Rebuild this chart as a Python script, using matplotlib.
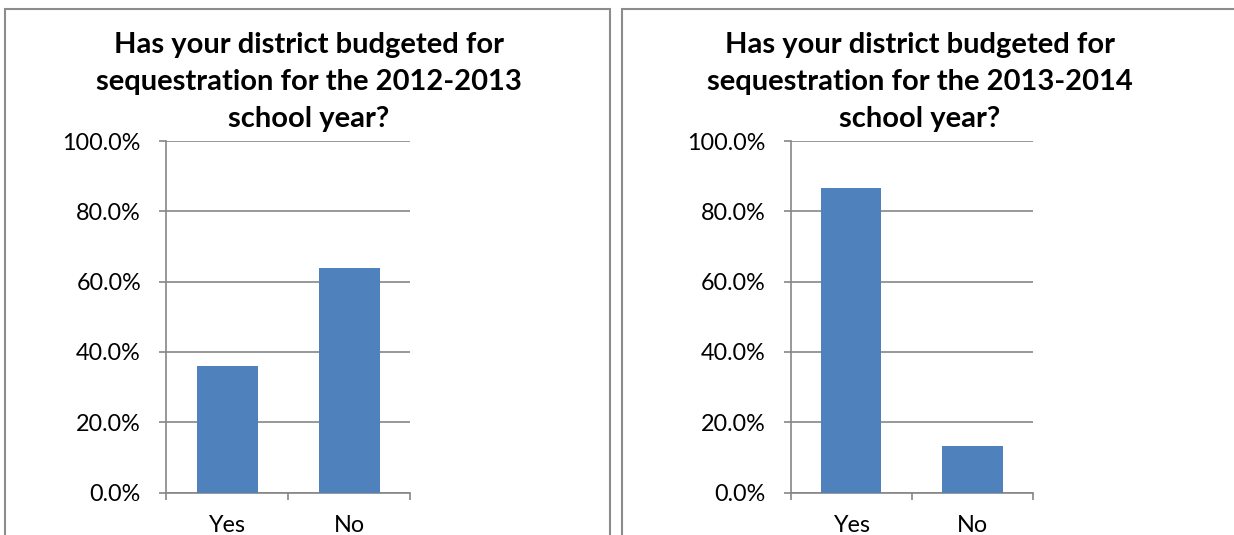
import matplotlib
matplotlib.use("Agg")
import matplotlib.pyplot as plt
from matplotlib.patches import Rectangle
from matplotlib.ticker import FixedLocator, PercentFormatter

categories = ["Yes", "No"]
values_2012 = [36.0, 64.0]
values_2013 = [86.7, 13.3]
yticks = [0, 20, 40, 60, 80, 100]
title_2012 = ["Has your district budgeted for", "sequestration for the 2012-2013", "school year?"]
title_2013 = ["Has your district budgeted for", "sequestration for the 2013-2014", "school year?"]

BAR = "#4F81BD"
GRID = "#868686"
FONT = "Lato"

W, H = 1234, 535
fig = plt.figure(figsize=(W / 100, H / 100), dpi=100)

def fx(px):
    return px / W

def fy(py):
    return 1 - py / H

# panel borders
for (x0, x1) in [(5, 610), (622, 1240)]:
    fig.patches.append(Rectangle((fx(x0), fy(560)), fx(x1 - x0), (560 - 9) / H,
                                 transform=fig.transFigure, fill=False,
                                 edgecolor="#8c8c8c", linewidth=1.5))

def panel(ax_left, ax_right, title_lines, title_cx, vals):
    ax = fig.add_axes([fx(ax_left), fy(492.5), fx(ax_right - ax_left), 351.5 / H])
    x = list(range(len(categories)))
    ax.bar(x, vals, width=0.5, color=BAR, zorder=3)
    ax.set_xlim(-0.5, len(categories) - 0.5)
    ax.set_ylim(0, 100)
    ax.set_yticks(yticks)
    ax.yaxis.set_major_formatter(PercentFormatter(decimals=1))
    ax.set_xticks(x)
    ax.set_xticklabels(categories)
    ax.xaxis.set_minor_locator(FixedLocator([i - 0.5 for i in range(len(categories) + 1)]))
    ax.tick_params(axis="x", which="major", length=0, pad=16.5, labelsize=16.8)
    ax.tick_params(axis="x", which="minor", length=5, width=1.2, color=GRID, direction="out")
    ax.tick_params(axis="y", length=5, width=1.2, color=GRID, pad=13, labelsize=16.8)
    for lab in ax.get_xticklabels() + ax.get_yticklabels():
        lab.set_fontfamily(FONT)
    ax.grid(axis="y", color=GRID, linewidth=1.2, zorder=0)
    ax.set_axisbelow(True)
    for s in ["top", "right"]:
        ax.spines[s].set_visible(False)
    for s in ["left", "bottom"]:
        ax.spines[s].set_color(GRID)
        ax.spines[s].set_linewidth(1.2)
    baselines = [53, 90, 127]
    for line, b in zip(title_lines, baselines):
        fig.text(fx(title_cx), fy(b), line, ha="center", va="baseline",
                 fontsize=21, fontweight="bold", fontfamily=FONT, color="black")
    return ax

panel(166, 410, title_2012, 309, values_2012)
panel(790.5, 1033, title_2013, 920, values_2013)

fig.savefig("out.png", dpi=100)
